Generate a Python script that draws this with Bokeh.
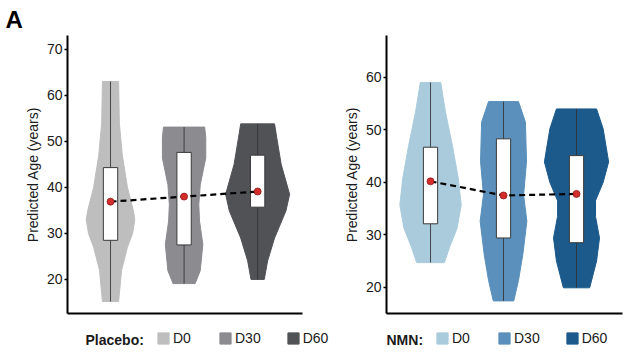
from bokeh.plotting import figure
from bokeh.layouts import column, row
from bokeh.models import Range1d, FixedTicker, Legend, LegendItem, Label, ColumnDataSource
from bokeh.embed import file_html
from bokeh.resources import INLINE

groups = ["D0", "D30", "D60"]

# Placebo
plc_colors = ["#bebebe", "#8b8b90", "#515256"]
plc_levels = [
    [63, 54, 47, 40, 35, 33, 30, 27, 22, 15.2],
    [53.1, 50.8, 46.4, 40.6, 36.3, 32.7, 27.6, 21.9, 19.1],
    [53.8, 50.8, 45, 38.5, 34.9, 29, 24, 20.0],
]
plc_density = [
    [0.11, 0.12, 0.16, 0.23, 0.31, 0.33, 0.30, 0.23, 0.15, 0.11],
    [0.28, 0.295, 0.295, 0.22, 0.20, 0.21, 0.255, 0.22, 0.15],
    [0.23, 0.26, 0.32, 0.435, 0.385, 0.23, 0.135, 0.09],
]
plc_q1 = [28.5, 27.5, 35.7]
plc_q3 = [44.3, 47.6, 47.0]
plc_mean = [36.9, 38.0, 39.1]

# NMN
nmn_colors = ["#a9cbdc", "#5a90bb", "#1c5a8b"]
nmn_levels = [
    [59.05, 53.4, 47, 40.8, 35.7, 31.3, 27.6, 24.7],
    [55.4, 51.5, 44, 37.6, 32.6, 26.3, 21.3, 17.4],
    [54.0, 50.2, 43.9, 40.0, 36.5, 33.5, 29.4, 25, 19.9],
]
nmn_density = [
    [0.14, 0.205, 0.30, 0.38, 0.42, 0.365, 0.26, 0.19],
    [0.205, 0.30, 0.315, 0.275, 0.32, 0.265, 0.205, 0.14],
    [0.275, 0.365, 0.44, 0.365, 0.26, 0.26, 0.315, 0.275, 0.18],
]
nmn_q1 = [32.1, 29.4, 28.5]
nmn_q3 = [46.7, 48.3, 45.1]
nmn_mean = [40.2, 37.5, 37.8]

FONT = "Liberation Sans"
TXT = "#1a1a1a"


def panel(colors, levels, density, q1, q3, mean, xr, yr, ticks, border_left, border_right):
    p = figure(width=317, height=320, output_backend="svg", toolbar_location=None,
               x_range=Range1d(*xr), y_range=Range1d(*yr),
               min_border_left=border_left, min_border_right=border_right,
               min_border_top=34, min_border_bottom=7)
    p.outline_line_color = None
    p.grid.visible = False
    p.background_fill_color = "white"
    p.border_fill_color = "white"
    xs_c = [1, 2, 3]
    for i, c in enumerate(xs_c):
        lv = levels[i]
        d = density[i]
        px = [c + w for w in d] + [c - w for w in reversed(d)]
        py = list(lv) + list(reversed(lv))
        p.patch(px, py, fill_color=colors[i], line_color=colors[i], line_width=1)
        p.line([c, c], [lv[0], lv[-1]], line_color="#333333", line_alpha=0.85, line_width=1)
    src = ColumnDataSource(dict(x=xs_c, q1=q1, q3=q3, mean=mean))
    p.vbar(x="x", width=0.195, bottom="q1", top="q3", source=src,
           fill_color="white", line_color="#3a3a3a", line_width=1)
    p.line(x="x", y="mean", source=src, line_color="black", line_width=2.2, line_dash="6 4")
    p.scatter(x="x", y="mean", source=src, size=7, fill_color="#d42b2b", line_color="#8e1c1c", line_width=0.8)

    yax = p.yaxis[0]
    yax.ticker = FixedTicker(ticks=ticks)
    yax.minor_tick_line_color = None
    yax.major_tick_out = 3
    yax.major_tick_in = 0
    yax.major_tick_line_width = 1.5
    yax.major_tick_line_color = "black"
    yax.axis_line_width = 2
    yax.axis_line_color = "black"
    yax.major_label_text_font = FONT
    yax.major_label_text_font_size = "14px"
    yax.major_label_text_color = TXT
    yax.major_label_standoff = 2
    yax.axis_label = "Predicted Age (years)"
    yax.axis_label_text_font = FONT
    yax.axis_label_text_font_size = "14px"
    yax.axis_label_text_font_style = "normal"
    yax.axis_label_text_color = TXT
    yax.axis_label_standoff = 3

    xax = p.xaxis[0]
    xax.ticker = FixedTicker(ticks=[])
    xax.major_tick_line_color = None
    xax.minor_tick_line_color = None
    xax.major_label_text_font_size = "0px"
    xax.major_label_standoff = 0
    xax.axis_line_width = 2
    xax.axis_line_color = "black"
    return p


p1 = panel(plc_colors, plc_levels, plc_density, plc_q1, plc_q3, plc_mean,
           (0.415, 3.61), (12.6, 73.0), [20, 30, 40, 50, 60, 70], 67, 15)
p2 = panel(nmn_colors, nmn_levels, nmn_density, nmn_q1, nmn_q3, nmn_mean,
           (0.397, 3.63), (15.0, 68.0), [20, 30, 40, 50, 60], 69, 12)

p1.title.text = "A"
p1.title.align = "left"
p1.title.offset = -62
p1.title.standoff = 6
p1.title.text_font = FONT
p1.title.text_font_size = "24px"
p1.title.text_font_style = "bold"
p1.title.text_color = "black"

# legend strip
pl = figure(width=634, height=37, output_backend="svg", toolbar_location=None,
            x_range=Range1d(0, 1), y_range=Range1d(0, 1),
            min_border=0, x_axis_location=None, y_axis_location=None)
pl.outline_line_color = None
pl.grid.visible = False


def make_legend(title, colors, x_title, x_items):
    items = []
    for g, c in zip(groups, colors):
        r = pl.rect(x=[-5], y=[-5], width=0.01, height=0.01, fill_color=c, line_color=c)
        items.append(LegendItem(label=g, renderers=[r]))
    lg = Legend(items=items, orientation="horizontal", location=(x_items, 11),
                label_text_font=FONT, label_text_font_size="14px", label_text_color=TXT,
                label_standoff=3, label_width=20, glyph_width=14, glyph_height=14,
                spacing=25, padding=0, margin=0,
                border_line_alpha=0, background_fill_alpha=0)
    pl.add_layout(lg, "center")
    pl.add_layout(Label(x=x_title, y=18, x_units="screen", y_units="screen", text=title,
                        text_font=FONT, text_font_size="14px", text_font_style="bold",
                        text_color=TXT, text_baseline="middle", text_align="left"))


make_legend("Placebo:", plc_colors, 85, 156)
make_legend("NMN:", nmn_colors, 386, 435)

layout = column(row(p1, p2), pl)
open("out.html", "w").write(file_html(layout, INLINE))
